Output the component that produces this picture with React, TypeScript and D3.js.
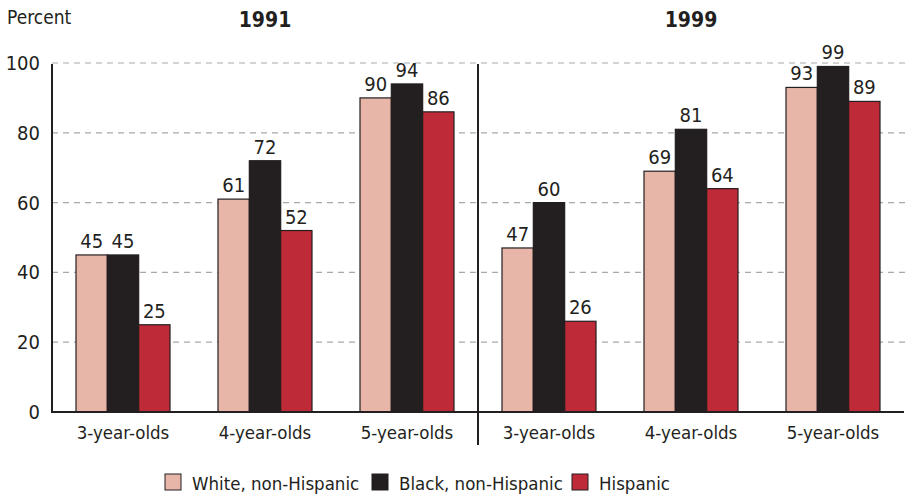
import React from "react";
import * as d3 from "d3";

const years = ["1991", "1999"];
const ageGroups = ["3-year-olds", "4-year-olds", "5-year-olds"];
const seriesNames = ["White, non-Hispanic", "Black, non-Hispanic", "Hispanic"];
const white = [45, 61, 90, 47, 69, 93];
const black = [45, 72, 94, 60, 81, 99];
const hispanic = [25, 52, 86, 26, 64, 89];
const yTicks = [0, 20, 40, 60, 80, 100];
const colors = ["#E8B6A9", "#231F20", "#BE2A37"];

const W = 910, H = 497;
const FONT = "'DejaVu Sans Condensed', 'DejaVu Sans', sans-serif";

export default function App() {
  const series = [white, black, hispanic];
  const cats = years.flatMap((y) => ageGroups.map((a) => `${y}|${a}`));
  const x = d3.scaleBand<string>().domain(cats).range([52, 904]).paddingInner(0.338).paddingOuter(0.169);
  const x1 = d3.scaleBand<number>().domain([0, 1, 2]).range([0, x.bandwidth()]);
  const y = d3.scaleLinear().domain([0, 100]).range([412, 63]);
  const step = x.step();
  const panelStart = (i: number) => 52 + i * step * 3;
  return (
    <svg width={W} height={H} style={{ position: "absolute", left: 0, top: 0, fontFamily: FONT, fontStretch: "condensed" }}>
      <rect width={W} height={H} fill="#fff" />
      {yTicks.filter((t) => t > 0).map((t) => (
        <line key={t} x1={52} x2={905} y1={y(t)} y2={y(t)} stroke="#a7a9ac" strokeWidth={1.2} strokeDasharray="6,5" />
      ))}
      {yTicks.map((t) => (
        <text key={t} x={40} y={y(t) + 7} textAnchor="end" fontSize={20} fill="#231F20">{t}</text>
      ))}
      <text x={7} y={24} fontSize={19} fill="#231F20">Percent</text>
      {years.map((yr, i) => (
        <text key={yr} x={panelStart(i) + step * 1.5} y={27} textAnchor="middle" fontSize={21} fontWeight="bold" fill="#231F20">{yr}</text>
      ))}
      {cats.map((c, ci) => (
        <g key={c} transform={`translate(${x(c)},0)`}>
          {series.map((s, si) => (
            <g key={si}>
              <rect x={x1(si)} y={y(s[ci])} width={x1.bandwidth()} height={y(0) - y(s[ci])} fill={colors[si]} stroke="#231F20" strokeWidth={1.2} />
              <text x={(x1(si) as number) + x1.bandwidth() / 2} y={y(s[ci]) - 7} textAnchor="middle" fontSize={20} fill="#231F20">{s[ci]}</text>
            </g>
          ))}
          <text x={x.bandwidth() / 2} y={439} textAnchor="middle" fontSize={18.5} fill="#231F20">{c.split("|")[1]}</text>
        </g>
      ))}
      <line x1={52} x2={904} y1={412} y2={412} stroke="#231F20" strokeWidth={2} />
      <line x1={52} x2={52} y1={64} y2={413} stroke="#231F20" strokeWidth={2} />
      <line x1={panelStart(1)} x2={panelStart(1)} y1={64} y2={445} stroke="#231F20" strokeWidth={2} />
      {seriesNames.map((n, i) => {
        const lx = [165, 372, 572][i];
        return (
          <g key={n}>
            <rect x={lx} y={474} width={16} height={16} fill={colors[i]} stroke="#231F20" strokeWidth={1} />
            <text x={lx + 27} y={490} fontSize={18.5} fill="#231F20">{n}</text>
          </g>
        );
      })}
    </svg>
  );
}
